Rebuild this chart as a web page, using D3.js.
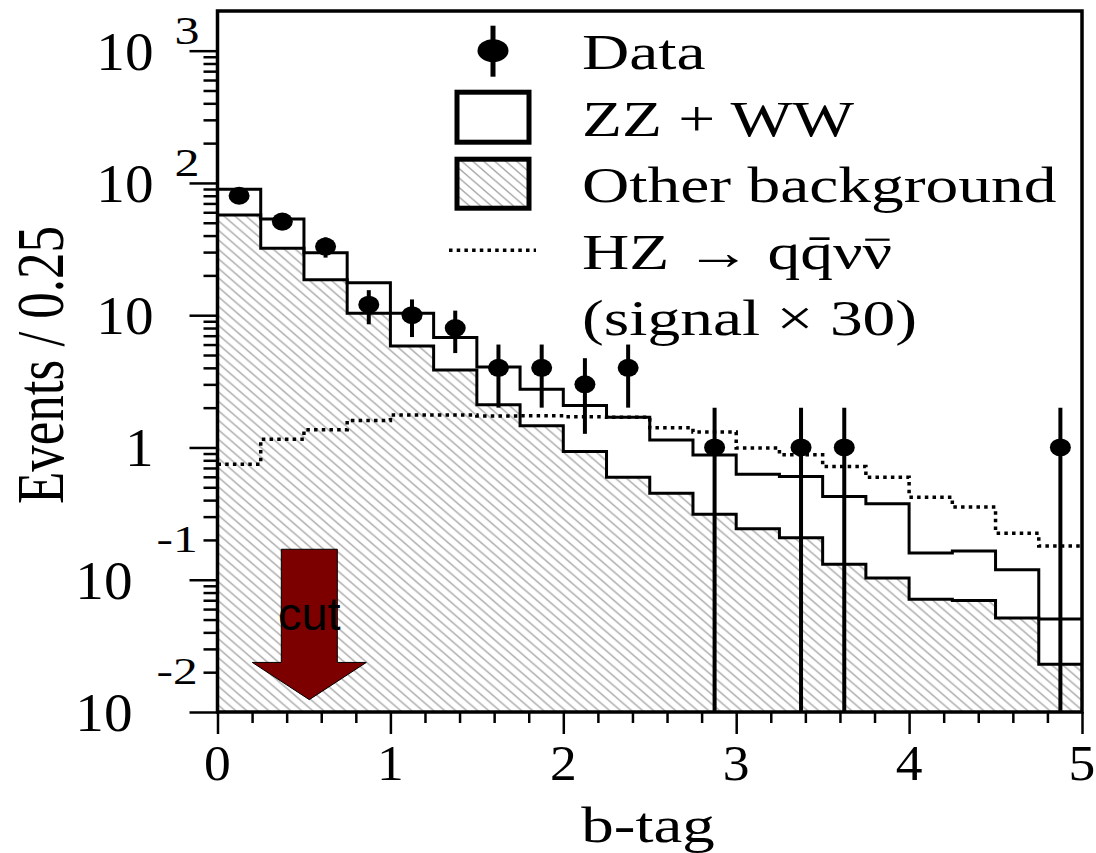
<!DOCTYPE html>
<html>
<head>
<meta charset="utf-8">
<script src="https://cdn.jsdelivr.net/npm/d3@7"></script>
<style>
  body { margin: 0; background: #fff; }
</style>
</head>
<body>
<svg id="chart"></svg>
<script>
// bins of b-tag, width 0.25
const binLow = [0, 0.25, 0.5, 0.75, 1, 1.25, 1.5, 1.75, 2, 2.25,
                2.5, 2.75, 3, 3.25, 3.5, 3.75, 4, 4.25, 4.5, 4.75];
const binWidth = 0.25;

// events per bin
const dataCounts = [80, 51, 33, 12, 10, 8, 4, 4, 3, 4, 0, 1, 0, 1, 1, 0, 0, 0, 0, 1];
const totalBkg = [89.6, 53.4, 29.6, 17.6, 10.35, 6.77, 4.05, 2.76, 2.08, 1.69,
                  1.14, 0.879, 0.628, 0.603, 0.426, 0.375, 0.159, 0.165, 0.119, 0.0504];
const otherBkg = [57.3, 32.1, 18.5, 10.35, 5.86, 3.86, 2.10, 1.46, 0.931, 0.596,
                  0.451, 0.313, 0.243, 0.208, 0.131, 0.103, 0.0713, 0.0696, 0.0513, 0.0230];
const signalX30 = [0.748, 1.155, 1.36, 1.60, 1.76, 1.76, 1.73, 1.74, 1.71, 1.69,
                   1.41, 1.31, 0.99, 0.88, 0.718, 0.596, 0.421, 0.354, 0.225, 0.180];

// axis ticks
const xTicks = [0, 1, 2, 3, 4, 5];
const xTickLabels = ["0", "1", "2", "3", "4", "5"];
const yTicks = [1e-2, 1e-1, 1, 10, 1e2, 1e3];
const yTickBase = ["10", "10", "1", "10", "10", "10"];
const yTickExp = ["-2", "-1", "", "", "2", "3"];

const legendLabels = ["Data", "ZZ + WW", "Other background",
                      "HZ \u2192 qq\u0304\u03BD\u03BD\u0304", "(signal \u00D7 30)"];

// cut arrow position (b-tag value) and vertical extent
const cutX = 0.531;
const cutTop = 0.17, cutNeck = 0.0237, cutTip = 0.0124;

const serif = "'Liberation Serif', 'Times New Roman', serif";

// set the dimensions and margins of the graph
let margin = {top: 11, right: 14, bottom: 141, left: 217.5},
    width = 1096 - margin.left - margin.right,
    height = 853 - margin.top - margin.bottom;

const x = d3.scaleLinear().domain([0, 5]).range([0, width]);
const y = d3.scaleLog().domain([0.01, 1995]).range([height, 0]);

const svgRoot = d3.select("#chart")
    .attr("width", 1096)
    .attr("height", 853);

// hatch pattern for "other background"
const hw = 11, hh = 9.5;
const pat = svgRoot.append("defs").append("pattern")
    .attr("id", "hatch")
    .attr("patternUnits", "userSpaceOnUse")
    .attr("width", hw).attr("height", hh);
pat.append("path")
    .attr("d", `M0,0L${hw},${hh}M-2,${hh - 2 * hh / hw}L2,${hh + 2 * hh / hw}M${hw - 2},${-2 * hh / hw}L${hw + 2},${2 * hh / hw}`)
    .attr("stroke", "#a8a8a8")
    .attr("stroke-width", 1.4);

let svg = svgRoot.append("g")
    .attr("transform", "translate(" + margin.left + "," + margin.top + ")");

// stretched text helper: returns the group holding the text
function label(sel, str, px, py, size, sx, anchor, family) {
    const g = sel.append("g")
        .attr("transform", `translate(${px},${py}) scale(${sx},1)`);
    g.append("text")
        .attr("text-anchor", anchor)
        .attr("font-family", family || serif)
        .attr("font-size", size)
        .attr("fill", "#000")
        .text(str);
    return g;
}

function stepPoints(vals) {
    const pts = binLow.map((b, i) => [b, vals[i]]);
    pts.push([binLow[binLow.length - 1] + binWidth, vals[vals.length - 1]]);
    return pts;
}

const stepLine = d3.line()
    .x(d => x(d[0]))
    .y(d => y(d[1]))
    .curve(d3.curveStepAfter);

// hatched area under other background
svg.append("path")
    .datum(stepPoints(otherBkg))
    .attr("fill", "url(#hatch)")
    .attr("d", d3.area()
        .x(d => x(d[0]))
        .y0(height)
        .y1(d => y(d[1]))
        .curve(d3.curveStepAfter));

svg.append("path")
    .datum(stepPoints(otherBkg))
    .attr("fill", "none")
    .attr("stroke", "#000")
    .attr("stroke-width", 3)
    .attr("d", stepLine);

svg.append("path")
    .datum(stepPoints(totalBkg))
    .attr("fill", "none")
    .attr("stroke", "#000")
    .attr("stroke-width", 3)
    .attr("d", stepLine);

svg.append("path")
    .datum(stepPoints(signalX30))
    .attr("fill", "none")
    .attr("stroke", "#000")
    .attr("stroke-width", 3.5)
    .attr("stroke-dasharray", "3.5,4.2")
    .attr("d", stepLine);

// data points with sqrt(n) errors
const pts = dataCounts
    .map((n, i) => ({c: binLow[i] + binWidth / 2, n: n}))
    .filter(d => d.n > 0);

svg.selectAll(".err")
    .data(pts)
    .enter().append("line")
    .attr("class", "err")
    .attr("x1", d => x(d.c)).attr("x2", d => x(d.c))
    .attr("y1", d => y(d.n + Math.sqrt(d.n)))
    .attr("y2", d => d.n - Math.sqrt(d.n) > 0.01 ? y(d.n - Math.sqrt(d.n)) : height)
    .attr("stroke", "#000")
    .attr("stroke-width", 4);

svg.selectAll(".dot")
    .data(pts)
    .enter().append("ellipse")
    .attr("class", "dot")
    .attr("cx", d => x(d.c))
    .attr("cy", d => y(d.n))
    .attr("rx", 10.5).attr("ry", 9)
    .attr("fill", "#000");

// cut arrow
const cx = x(cutX);
svg.append("path")
    .attr("d", `M${cx - 28},${y(cutTop)}L${cx + 28},${y(cutTop)}L${cx + 28},${y(cutNeck)}` +
               `L${cx + 57},${y(cutNeck)}L${cx},${y(cutTip)}L${cx - 57},${y(cutNeck)}` +
               `L${cx - 28},${y(cutNeck)}Z`)
    .attr("fill", "#7d0000")
    .attr("stroke", "#000")
    .attr("stroke-width", 1);
label(svg, "cut", cx, y(cutTop) + 81, 47, 1, "middle", "'Liberation Sans', Arial, sans-serif");

// frame
svg.append("rect")
    .attr("width", width).attr("height", height)
    .attr("fill", "none")
    .attr("stroke", "#000")
    .attr("stroke-width", 3.5);

// x axis ticks
const xMinor = d3.range(0, 5.001, 0.2).filter(v => Math.abs(v - Math.round(v)) > 1e-6);
svg.append("g")
    .attr("transform", "translate(0," + height + ")")
    .call(d3.axisBottom(x).tickValues(xTicks).tickSize(22).tickFormat(""))
    .call(g => g.select(".domain").remove())
    .selectAll("line").attr("stroke-width", 2.5);
svg.append("g")
    .attr("transform", "translate(0," + height + ")")
    .call(d3.axisBottom(x).tickValues(xMinor).tickSize(11).tickFormat(""))
    .call(g => g.select(".domain").remove())
    .selectAll("line").attr("stroke-width", 2.5);

xTicks.forEach((v, i) => label(svg, xTickLabels[i], x(v), height + 68, 51, 1.05, "middle"));

// y axis ticks
const yMinor = [];
for (let e = -2; e <= 3; e++) {
    for (let k = 2; k <= 9; k++) {
        const v = k * Math.pow(10, e);
        if (v < 1995) yMinor.push(v);
    }
}
svg.append("g")
    .call(d3.axisLeft(y).tickValues(yTicks).tickSize(28).tickFormat(""))
    .call(g => g.select(".domain").remove())
    .selectAll("line").attr("stroke-width", 2.5);
svg.append("g")
    .call(d3.axisLeft(y).tickValues(yMinor).tickSize(14).tickFormat(""))
    .call(g => g.select(".domain").remove())
    .selectAll("line").attr("stroke-width", 2.5);

yTicks.forEach((v, i) => {
    const ty = y(v);
    const neg = yTickExp[i].startsWith("-");
    const baseRight = neg ? -85 : -64;
    label(svg, yTickBase[i], baseRight, ty + 19, 54, 1.06, "end");
    if (yTickExp[i]) {
        label(svg, yTickExp[i], neg ? -61 : -43, neg ? ty - 28 : ty - 6.5,
              neg ? 38 : 40, neg ? 1.3 : 1.25, "start");
    }
});

// axis titles
svgRoot.append("text")
    .attr("transform", "translate(63,365) rotate(-90) scale(1,1.28)")
    .attr("text-anchor", "middle")
    .attr("font-family", serif)
    .attr("font-size", 53)
    .text("Events / 0.25");
label(svgRoot, "b-tag", 648, 842, 50, 1.3, "middle");

// legend
const leg = svgRoot.append("g");
const legTop = 50.7, legStep = 66.5, symX = 493, textX = 582;
legendLabels.forEach((t, i) => {
    // a combining macron after nu is drawn by hand, the font places it badly
    const barLast = t.endsWith("\u03BD\u0304");
    const shown = barLast ? t.slice(0, -1) : t;
    const g = label(leg, shown, textX, legTop + i * legStep + 18.5, 50, 1.31, "start");
    if (barLast) {
        const node = g.select("text").node();
        const box = node.getExtentOfChar(shown.length - 1);
        g.append("line")
            .attr("x1", box.x + 2).attr("x2", box.x + box.width - 2)
            .attr("y1", -29).attr("y2", -29)
            .attr("stroke", "#000").attr("stroke-width", 2.2);
    }
});
leg.append("line")
    .attr("x1", symX).attr("x2", symX)
    .attr("y1", legTop - 25).attr("y2", legTop + 26)
    .attr("stroke", "#000").attr("stroke-width", 5);
leg.append("ellipse")
    .attr("cx", symX).attr("cy", legTop)
    .attr("rx", 15.5).attr("ry", 11.5)
    .attr("fill", "#000");
leg.append("rect")
    .attr("x", symX - 36).attr("y", legTop + legStep - 25)
    .attr("width", 72).attr("height", 50)
    .attr("fill", "#fff").attr("stroke", "#000").attr("stroke-width", 5);
leg.append("rect")
    .attr("x", symX - 36).attr("y", legTop + 2 * legStep - 24.5)
    .attr("width", 72).attr("height", 49)
    .attr("fill", "url(#hatch)").attr("stroke", "#000").attr("stroke-width", 5);
leg.append("line")
    .attr("x1", symX - 44).attr("x2", symX + 43)
    .attr("y1", legTop + 3 * legStep).attr("y2", legTop + 3 * legStep)
    .attr("stroke", "#000").attr("stroke-width", 3.5)
    .attr("stroke-dasharray", "3.5,4.2");
</script>
</body>
</html>
